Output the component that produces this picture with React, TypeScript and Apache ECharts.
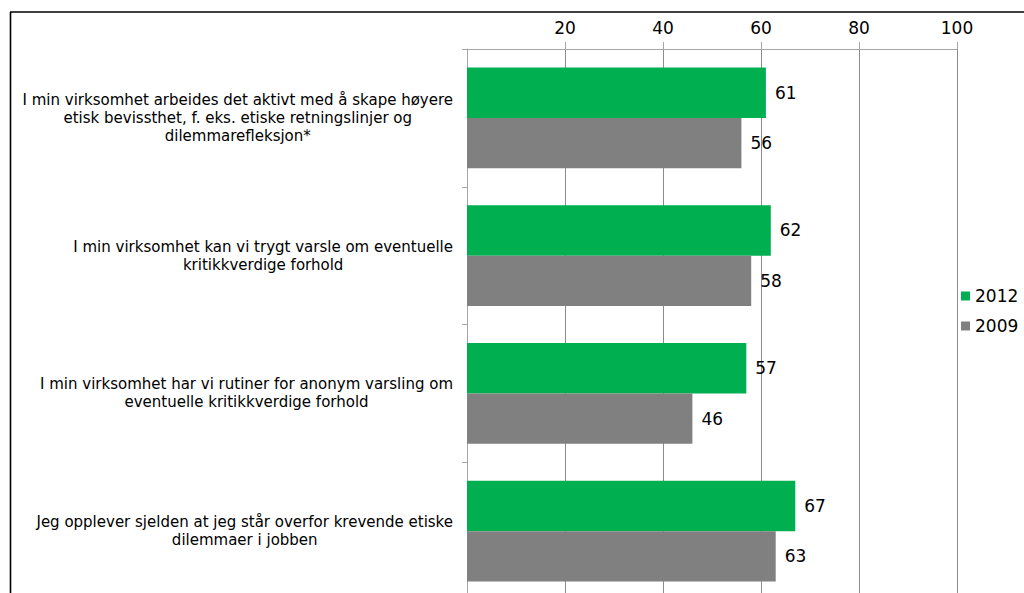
import React, { useEffect, useRef } from "react";
import * as echarts from "echarts";

const categories = [
  "I min virksomhet arbeides det aktivt med å skape høyere\netisk bevissthet, f. eks. etiske retningslinjer og\ndilemmarefleksjon*",
  "I min virksomhet kan vi trygt varsle om eventuelle\nkritikkverdige forhold",
  "I min virksomhet har vi rutiner for anonym varsling om\neventuelle kritikkverdige forhold",
  "Jeg opplever sjelden at jeg står overfor krevende etiske\ndilemmaer i jobben",
];
const values2012 = [61, 62, 57, 67];
const values2009 = [56, 58, 46, 63];
const seriesNames = ["2012", "2009"];
const xTicks = { min: 0, max: 100, interval: 20 };

const FONT = "'DejaVu Sans', Verdana, sans-serif";

export default function App() {
  const ref = useRef<HTMLDivElement>(null);
  useEffect(() => {
    if (!ref.current) return;
    const chart = echarts.init(ref.current, null, { renderer: "svg" });
    chart.setOption({
      animation: false,
      backgroundColor: "#fff",
      textStyle: { fontFamily: FONT },
      grid: { left: 467, right: 67, top: 49, bottom: 5, containLabel: false },
      legend: {
        orient: "vertical",
        left: 956,
        top: 282,
        itemWidth: 9,
        itemHeight: 9,
        itemGap: 12,
        icon: "rect",
        textStyle: { fontSize: 17, color: "#000", fontFamily: FONT, lineHeight: 18 },
        data: seriesNames,
      },
      xAxis: {
        type: "value",
        position: "top",
        min: xTicks.min,
        max: xTicks.max,
        interval: xTicks.interval,
        axisLine: { show: true, lineStyle: { color: "#a6a6a6", width: 1 } },
        axisTick: { show: true, length: 7, lineStyle: { color: "#a6a6a6" } },
        axisLabel: {
          showMinLabel: false,
          fontSize: 17,
          color: "#000",
          fontFamily: FONT,
          margin: 13,
        },
        splitLine: { show: true, lineStyle: { color: "#8c8c8c", width: 1 } },
      },
      yAxis: {
        type: "category",
        inverse: true,
        data: categories,
        axisLine: { show: true, lineStyle: { color: "#a6a6a6", width: 1 } },
        axisTick: { show: true, length: 5, lineStyle: { color: "#a6a6a6" } },
        axisLabel: {
          align: "right",
          margin: 14,
          formatter: (v: string) =>
            v
              .split("\n")
              .map((l) => `{c|${l}}`)
              .join("\n"),
          rich: {
            c: {
              align: "center",
              fontSize: 15,
              lineHeight: 18,
              color: "#000",
              fontFamily: FONT,
            },
          },
        },
      },
      series: [
        {
          name: seriesNames[0],
          type: "bar",
          data: values2012,
          itemStyle: { color: "#00b050" },
          barGap: "0%",
          barCategoryGap: "27%",
          label: {
            show: true,
            position: "right",
            distance: 9,
            fontSize: 17,
            color: "#000",
            fontFamily: FONT,
          },
        },
        {
          name: seriesNames[1],
          type: "bar",
          data: values2009,
          itemStyle: { color: "#808080" },
          barGap: "0%",
          barCategoryGap: "27%",
          label: {
            show: true,
            position: "right",
            distance: 9,
            fontSize: 17,
            color: "#000",
            fontFamily: FONT,
          },
        },
      ],
      graphic: [
        {
          type: "line",
          shape: { x1: 10, y1: 12, x2: 1024, y2: 12 },
          style: { stroke: "#000", lineWidth: 1.6 },
        },
        {
          type: "line",
          shape: { x1: 10.5, y1: 12, x2: 10.5, y2: 605 },
          style: { stroke: "#000", lineWidth: 1.6 },
        },
      ],
    });
    return () => chart.dispose();
  }, []);
  return (
    <div style={{ position: "fixed", left: 0, top: 0, width: 1024, height: 593, overflow: "hidden", background: "#fff" }}>
      <div ref={ref} style={{ width: 1024, height: 605 }} />
    </div>
  );
}
